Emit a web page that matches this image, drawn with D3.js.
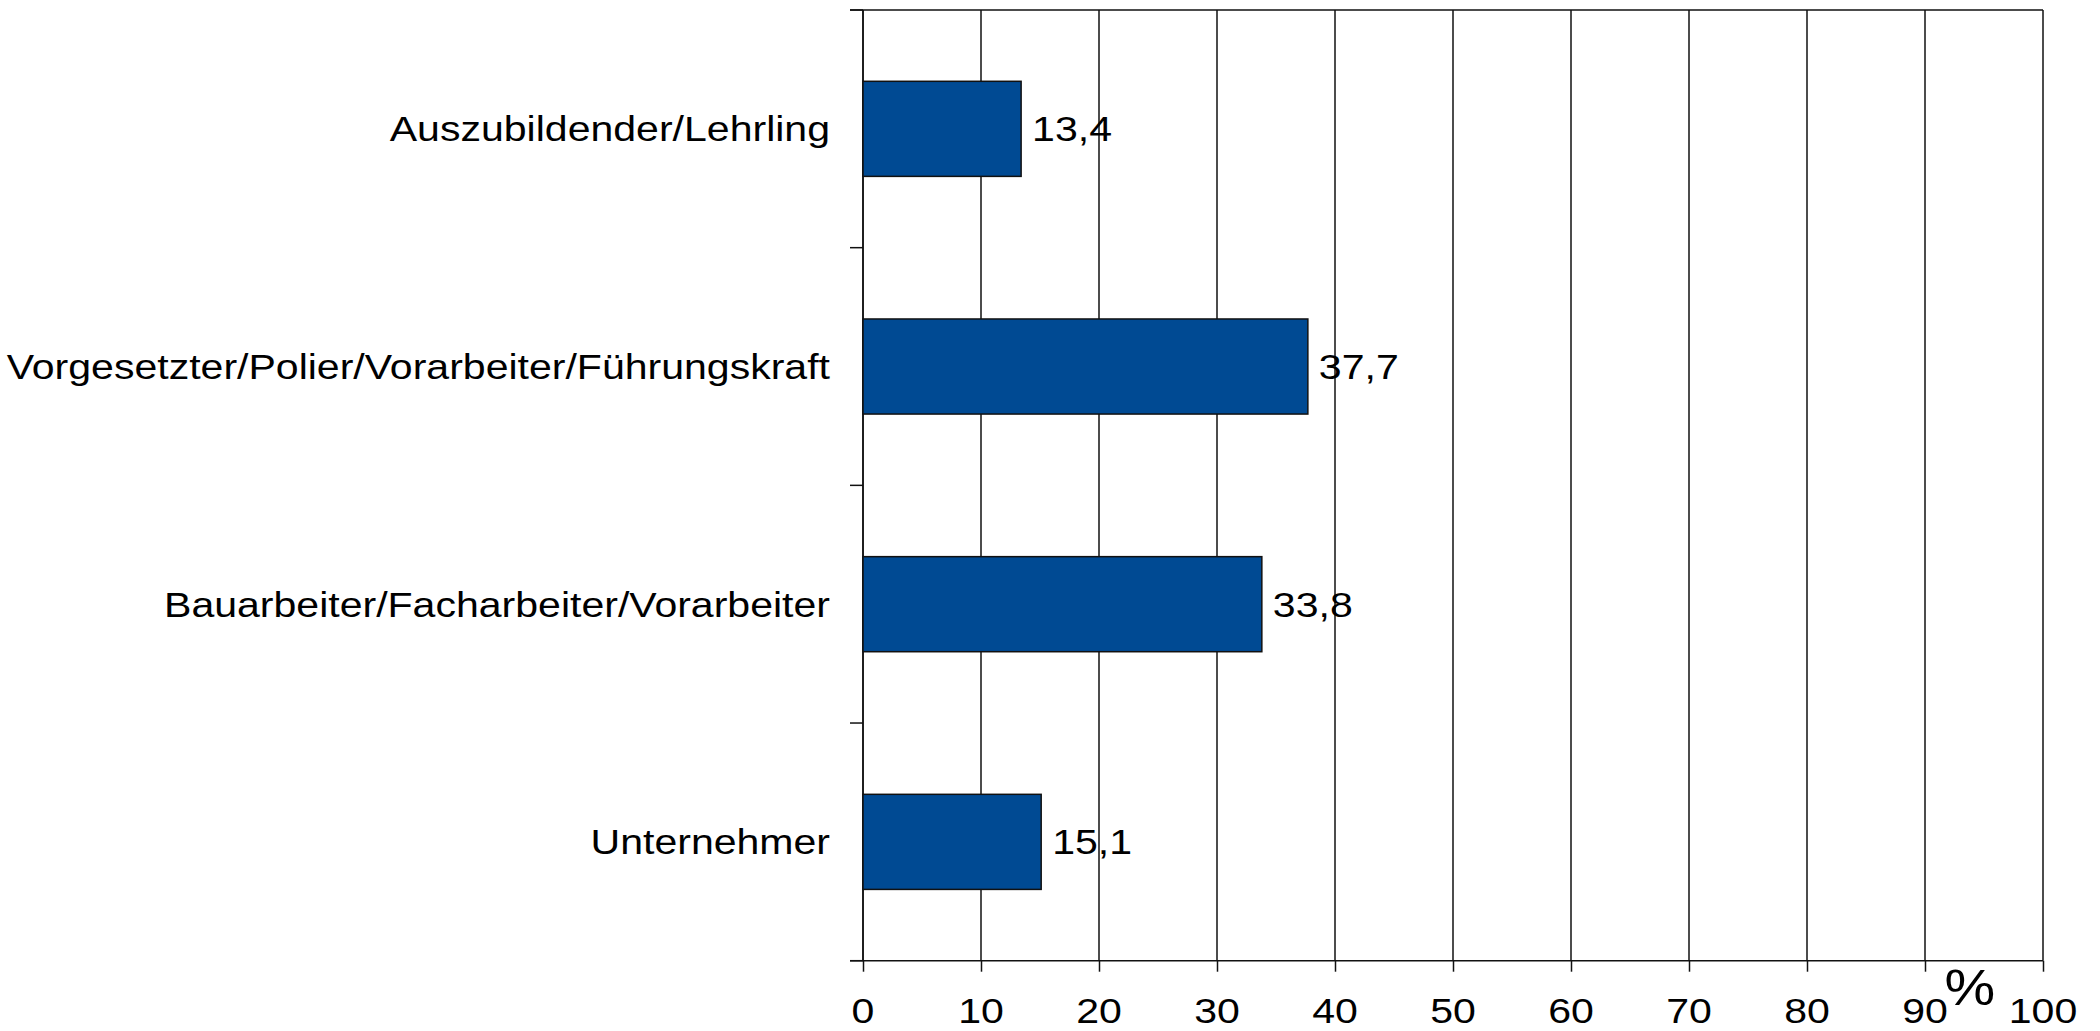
<!DOCTYPE html>
<html>
<head>
<meta charset="utf-8">
<script src="https://cdn.jsdelivr.net/npm/d3@7"></script>
<style>
  html, body { margin: 0; padding: 0; background: #fff; }
  text { font-family: "Liberation Sans", Arial, sans-serif; fill: #000; }
</style>
</head>
<body>
<div id="chart"></div>
<script>
const categories = ["Auszubildender/Lehrling", "Vorgesetzter/Polier/Vorarbeiter/Führungskraft", "Bauarbeiter/Facharbeiter/Vorarbeiter", "Unternehmer"]
const values = [13.4, 37.7, 33.8, 15.1]
const valueLabels = ["13,4", "37,7", "33,8", "15,1"]
const xTicks = [0, 10, 20, 30, 40, 50, 60, 70, 80, 90, 100]
const unitLabel = "%"

const width = 2100, height = 1031
const plotLeft = 863, plotTop = 10, plotRight = 2043, plotBottom = 960.7
const stretch = 1.14 // text in the original is a bit wide

const svg = d3.select("#chart").append("svg")
              .attr("width", width)
              .attr("height", height)

const x = d3.scaleLinear().domain([0, 100]).range([plotLeft, plotRight])
const y = d3.scaleBand()
            .domain(categories)
            .range([plotTop, plotBottom])
            .paddingInner(0.6)
            .paddingOuter(0.3)

// vertical grid lines
svg.append("g")
   .selectAll("line")
   .data(xTicks)
   .join("line")
   .attr("x1", d => x(d)).attr("x2", d => x(d))
   .attr("y1", plotTop).attr("y2", plotBottom)
   .attr("stroke", "#111")
   .attr("stroke-width", 1.5)

// frame top
svg.append("line")
   .attr("x1", plotLeft - 13).attr("x2", plotRight)
   .attr("y1", plotTop).attr("y2", plotTop)
   .attr("stroke", "#111").attr("stroke-width", 1.5)

// x axis
const xAxis = d3.axisBottom(x).tickValues(xTicks).tickSize(11).tickFormat("")
const gx = svg.append("g")
              .attr("transform", "translate(0," + plotBottom + ")")
              .call(xAxis)
gx.select(".domain").attr("d", "M" + (plotLeft - 13) + ",0H" + plotRight).attr("stroke", "#111").attr("stroke-width", 1.5)
gx.selectAll(".tick line").attr("stroke", "#111").attr("stroke-width", 1.5)

svg.append("g")
   .selectAll("text")
   .data(xTicks)
   .join("text")
   .attr("transform", d => "translate(" + x(d) + ",1023) scale(" + stretch + ",1)")
   .attr("text-anchor", "middle")
   .style("font-size", "36px")
   .text(d => d)

svg.append("text")
   .attr("transform", "translate(" + x(93.8) + ",1005) scale(" + stretch + ",1)")
   .attr("text-anchor", "middle")
   .style("font-size", "50px")
   .text(unitLabel)

// y axis: boundary ticks between categories
const bounds = d3.range(categories.length + 1).map(i => plotTop + i * y.step())
svg.append("g")
   .selectAll("line")
   .data(bounds)
   .join("line")
   .attr("x1", plotLeft - 13).attr("x2", plotLeft)
   .attr("y1", d => d).attr("y2", d => d)
   .attr("stroke", "#111").attr("stroke-width", 1.5)

svg.append("line")
   .attr("x1", plotLeft).attr("x2", plotLeft)
   .attr("y1", plotTop).attr("y2", plotBottom)
   .attr("stroke", "#111").attr("stroke-width", 1.5)

svg.append("g")
   .selectAll("text")
   .data(categories)
   .join("text")
   .attr("transform", d => "translate(830," + (y(d) + y.bandwidth() / 2) + ") scale(" + stretch + ",1)")
   .attr("text-anchor", "end")
   .attr("dy", "0.35em")
   .style("font-size", "36px")
   .text(d => d)

// bars
svg.append("g")
   .selectAll("rect")
   .data(values)
   .join("rect")
   .attr("x", x(0))
   .attr("y", (d, i) => y(categories[i]))
   .attr("width", d => x(d) - x(0))
   .attr("height", y.bandwidth())
   .attr("fill", "#004a93")
   .attr("stroke", "#111")
   .attr("stroke-width", 1.5)

svg.append("g")
   .selectAll("text")
   .data(values)
   .join("text")
   .attr("transform", (d, i) => "translate(" + (x(d) + 11) + "," + (y(categories[i]) + y.bandwidth() / 2) + ") scale(" + stretch + ",1)")
   .attr("dy", "0.35em")
   .style("font-size", "36px")
   .text((d, i) => valueLabels[i])
</script>
</body>
</html>
